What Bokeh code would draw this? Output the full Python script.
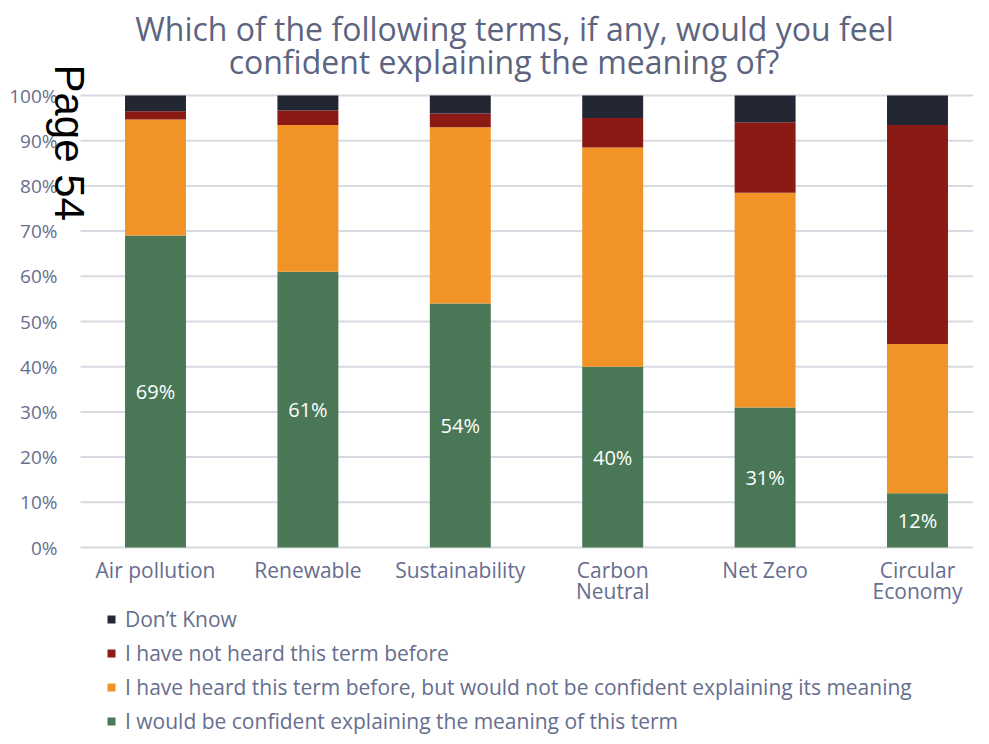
import math
from bokeh.plotting import figure
from bokeh.models import (ColumnDataSource, Range1d, Legend, LegendItem, Label)
from bokeh.core.properties import value
from bokeh.embed import file_html
from bokeh.resources import INLINE

categories = ["Air pollution", "Renewable", "Sustainability", "Carbon Neutral", "Net Zero", "Circular Economy"]
category_labels = ["Air pollution", "Renewable", "Sustainability", "Carbon\nNeutral", "Net Zero", "Circular\nEconomy"]
confident = [69, 61, 54, 40, 31, 12]
heard_not_confident = [25.7, 32.5, 39, 48.5, 47.5, 33]
not_heard = [1.8, 3.2, 3, 6.5, 15.6, 48.5]
dont_know = [3.5, 3.3, 4, 5, 5.9, 6.5]
series_names = [
    "I would be confident explaining the meaning of this term",
    "I have heard this term before, but would not be confident explaining its meaning",
    "I have not heard this term before",
    "Don\u2019t Know",
]
colors = ["#4a7856", "#f29328", "#8b1a14", "#232733"]
y_ticks = [0, 10, 20, 30, 40, 50, 60, 70, 80, 90, 100]
title_lines = ["Which of the following terms, if any, would you feel",
               "confident explaining the meaning of?"]

FONT = "Open Sans"
TEXT_COLOR = "#666e8e"
TITLE_COLOR = "#5c6480"
GRID_COLOR = "#d8dae2"

W, H = 973, 736
# pixel geometry of the plotting region inside the canvas
LEFT, TOP, BOTTOM = 80, 95, 547
PX_PER_CAT = 152.4
PX_PER_PCT = (BOTTOM - TOP) / 100.0
FIRST_CENTER = 75.0  # px from plotting-region left to first bar centre


def xd(px):
    return (px - LEFT - FIRST_CENTER) / PX_PER_CAT


def yd(py):
    return (BOTTOM - py) / PX_PER_PCT


xs = list(range(len(categories)))
source = ColumnDataSource(dict(
    x=xs,
    confident=confident,
    heard=heard_not_confident,
    notheard=not_heard,
    dk=dont_know,
    label_y=[c / 2 for c in confident],
    label_text=["%d%%" % c for c in confident],
))
stackers = ["confident", "heard", "notheard", "dk"]

p = figure(width=W, height=H, output_backend="svg", toolbar_location=None, title=None,
           x_range=Range1d(xd(0), xd(W)), y_range=Range1d(yd(H), yd(0)),
           x_axis_location=None, y_axis_location=None, min_border=0)
p.outline_line_color = None
p.grid.visible = False

# horizontal gridlines (value axis)
grid_src = ColumnDataSource(dict(y=y_ticks, lab=["%d%%" % t for t in y_ticks]))
p.segment(x0=xd(LEFT), x1=xd(W), y0="y", y1="y", source=grid_src,
          line_color=GRID_COLOR, line_width=2)

# stacked bars
renderers = p.vbar_stack(stackers, x="x", width=0.4, color=colors, line_color=None, source=source)

# value labels on green segments
p.text(x="x", y="label_y", text="label_text", source=source,
       text_color="white", text_font=value(FONT), text_font_size="20px",
       text_align="center", text_baseline="middle")

# y tick labels
p.text(x=xd(57), y="y", text="lab", source=grid_src,
       text_color=TEXT_COLOR, text_font=value(FONT), text_font_size="19px",
       text_align="right", text_baseline="middle")

# x category labels
cat_src = ColumnDataSource(dict(x=xs, lab=category_labels))
p.text(x="x", y=yd(555), text="lab", source=cat_src,
       text_color=TEXT_COLOR, text_font=value(FONT), text_font_size="21px",
       text_align="center", text_baseline="top", text_line_height=0.78)

# title (two centred lines)
p.add_layout(Label(x=xd(514), y=yd(28), text=title_lines[0],
                   text_align="center", text_baseline="middle",
                   text_font=FONT, text_font_size="32px", text_color=TITLE_COLOR))
p.add_layout(Label(x=xd(503.5), y=yd(61), text=title_lines[1],
                   text_align="center", text_baseline="middle",
                   text_font=FONT, text_font_size="32px", text_color=TITLE_COLOR))

# page stamp
p.add_layout(Label(x=xd(68.5), y=yd(64), text="Page 54",
                   angle=-math.pi / 2, text_align="left", text_baseline="middle",
                   text_font="Liberation Sans", text_font_size="42px", text_color="black"))

# legend
items = [LegendItem(label=series_names[i], renderers=[renderers[i]]) for i in [3, 2, 1, 0]]
legend = Legend(items=items, location=(106, 1), orientation="vertical",
                label_text_font=FONT, label_text_font_size="21px", label_text_color=TEXT_COLOR,
                glyph_width=10, glyph_height=10, label_height=20, label_standoff=9,
                spacing=6, padding=0, margin=0,
                border_line_color=None, background_fill_alpha=0)
p.add_layout(legend, "center")

open("out.html", "w").write(file_html(p, INLINE))
